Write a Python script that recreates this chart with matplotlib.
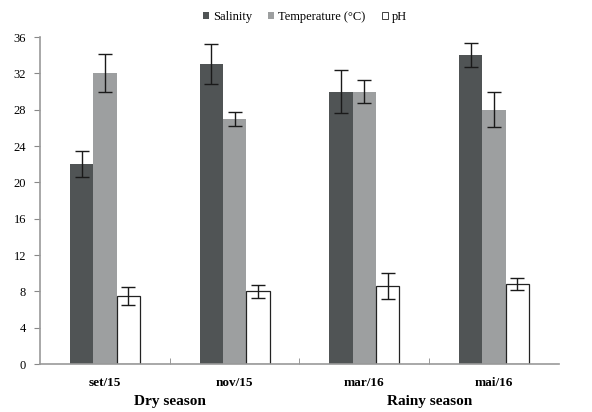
import matplotlib
import numpy as np

matplotlib.use("Agg")
import matplotlib.pyplot as plt

plt.rcParams["font.family"] = ["Liberation Serif", "DejaVu Serif"]

months = ["set/15", "nov/15", "mar/16", "mai/16"]
seasons = ["Dry season", "Rainy season"]
salinity = [22.0, 33.0, 30.0, 34.0]
salinity_err = [1.45, 2.2, 2.4, 1.3]
temperature = [32.0, 27.0, 30.0, 28.0]
temperature_err = [2.1, 0.75, 1.3, 1.9]
ph = [7.5, 8.0, 8.6, 8.8]
ph_err = [1.0, 0.7, 1.4, 0.7]

fig = plt.figure(figsize=(5.92, 4.12), dpi=100)
ax = fig.add_axes([0.0676, 0.1165, 0.8765, 0.7935])

x = np.arange(len(months))
w = 0.18
err_kw = dict(ecolor="#1a1a1a", elinewidth=1.0, capsize=5, capthick=1.0)

ax.bar(x - w, salinity, w, yerr=salinity_err, color="#505455",
       label="Salinity", error_kw=err_kw)
ax.bar(x, temperature, w, yerr=temperature_err, color="#9d9fa0",
       label="Temperature (\u00b0C)", error_kw=err_kw)
ax.bar(x + w, ph, w, yerr=ph_err, color="white", edgecolor="#222222",
       linewidth=0.9, label="pH", error_kw=err_kw)

ax.set_xlim(-0.5, len(months) - 0.5)
ax.set_ylim(0, 36)
ax.set_yticks(np.arange(0, 37, 4))
ax.tick_params(axis="y", direction="out", length=4, color="#888888",
               labelsize=9, pad=6)

ax.set_xticks(x)
ax.set_xticklabels(months, fontweight="bold", fontsize=9.5)
ax.tick_params(axis="x", which="major", length=0, pad=9)
ax.set_xticks(np.arange(0.5, len(months) - 0.5, 1.0), minor=True)
ax.tick_params(axis="x", which="minor", direction="in", length=4,
               color="#888888")

for s in ["top", "right"]:
    ax.spines[s].set_visible(False)
for s in ["left", "bottom"]:
    ax.spines[s].set_color("#999999")
    ax.spines[s].set_linewidth(1.2)

# season labels under the month pairs
for i, name in enumerate(seasons):
    ax.text(0.5 + 2 * i, -0.095, name, transform=ax.get_xaxis_transform(),
            ha="center", va="top", fontsize=11, fontweight="bold")

leg = ax.legend(loc="upper center", bbox_to_anchor=(0.51, 1.115), ncol=3,
                frameon=False, fontsize=9, handlelength=0.5, handleheight=0.5,
                handletextpad=0.3, columnspacing=1.3)
for h in leg.legend_handles:
    h.set_linewidth(0.6)

fig.savefig("out.png", dpi=100)
plt.close(fig)
